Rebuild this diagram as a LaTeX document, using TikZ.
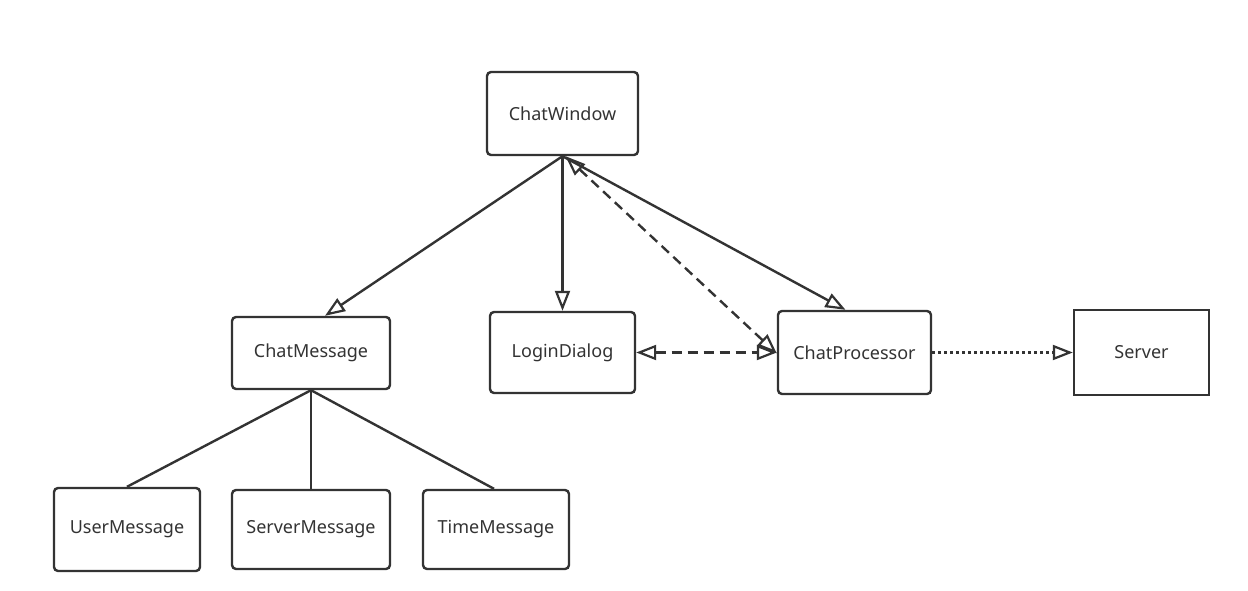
\documentclass[tikz,border=0pt]{standalone}
\usepackage{fontspec}
\setmainfont{Noto Sans}
\usetikzlibrary{arrows.meta}
\definecolor{ink}{HTML}{333333}
\begin{document}
\begin{tikzpicture}[x=1pt,y=-1pt,
  box/.style={draw=ink,line width=2.4pt,rounded corners=4pt,text=ink,font=\fontsize{18}{21}\selectfont,inner sep=0pt},
  sqbox/.style={box,rounded corners=0pt},
  conn/.style={draw=ink,line width=2.4pt},
  tip/.tip={Triangle[open,length=20pt,width=15pt,line width=2.2pt]},
  tri/.style={-tip},
  bitri/.style={tip-tip},
  dashln/.style={dash pattern=on 10pt off 6pt},
  dotln/.style={dash pattern=on 2.5pt off 3.5pt}]
\useasboundingbox (0,0) rectangle (1248,591);
\node[box,minimum width=151pt,minimum height=83pt] (cw) at (562.5,113.5) {ChatWindow};
\node[box,minimum width=158pt,minimum height=72pt] (cm) at (311,353) {ChatMessage};
\node[box,minimum width=145pt,minimum height=81pt] (ld) at (562.5,352.5) {LoginDialog};
\node[box,minimum width=153pt,minimum height=83pt] (cp) at (854.5,352.5) {ChatProcessor};
\node[sqbox,minimum width=135pt,minimum height=85pt] (sv) at (1141.5,352.5) {Server};
\node[box,minimum width=146pt,minimum height=83pt] (um) at (127,529.5) {UserMessage};
\node[box,minimum width=158pt,minimum height=79pt] (sm) at (311,529.5) {ServerMessage};
\node[box,minimum width=146pt,minimum height=79pt] (tm) at (496,529.5) {TimeMessage};
\coordinate (cwb) at (cw.south);
\coordinate (cmt) at ([xshift=14pt]cm.north);
\coordinate (cpt) at ([xshift=-9pt]cp.north);
\coordinate (cmb) at (cm.south);
\draw[conn,tri] (cwb) -- (cmt);
\draw[conn,tri] (cwb) -- (ld.north);
\draw[conn,tri] (cwb) -- (cpt);
\draw[conn,bitri,dashln] ([xshift=3pt]cwb) -- ([yshift=-1pt]cp.west);
\draw[conn,bitri,dashln] (ld.east) -- (cp.west);
\draw[conn,tri,dotln] (cp.east) -- (sv.west);
\draw[conn] (cmb) -- (um.north);
\draw[conn] (cmb) -- (sm.north);
\draw[conn] (cmb) -- ([xshift=-2pt]tm.north);
\end{tikzpicture}
\end{document}
